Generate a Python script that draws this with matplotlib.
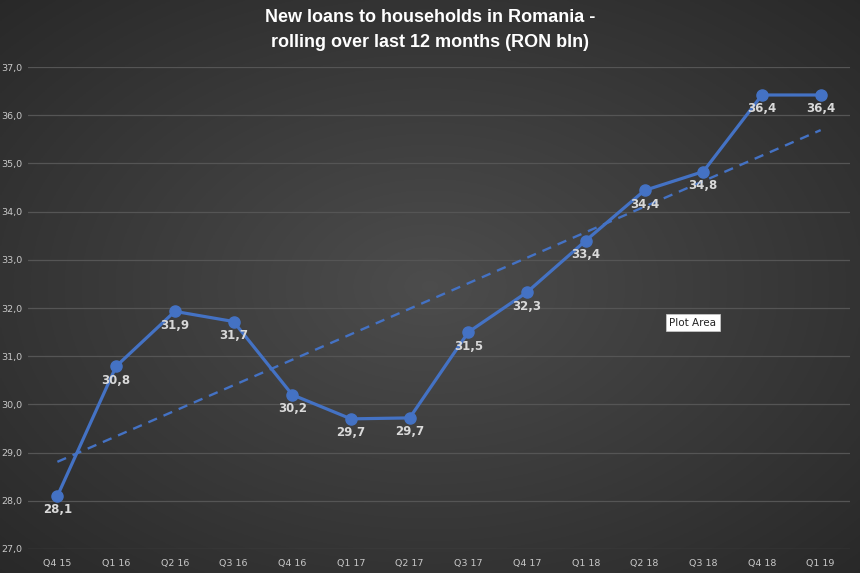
import numpy as np
import matplotlib.pyplot as plt
from matplotlib.ticker import FuncFormatter

# quarters and rolling 12-month new loans (RON bln)
quarters = ['Q4 15', 'Q1 16', 'Q2 16', 'Q3 16', 'Q4 16', 'Q1 17', 'Q2 17',
            'Q3 17', 'Q4 17', 'Q1 18', 'Q2 18', 'Q3 18', 'Q4 18', 'Q1 19']
loans = [28.1, 30.79, 31.93, 31.72, 30.2, 29.7, 29.72,
         31.5, 32.33, 33.4, 34.44, 34.83, 36.42, 36.42]
y_ticks = [27, 28, 29, 30, 31, 32, 33, 34, 35, 36, 37]

blue = '#4472C4'
x = np.arange(len(quarters))

fig = plt.figure(figsize=(8.6, 5.73), dpi=100)

# radial gradient background
bg = fig.add_axes([0, 0, 1, 1], zorder=-10)
gx, gy = np.meshgrid(np.linspace(-1, 1, 400), np.linspace(-1, 1, 300))
r = np.sqrt(gx ** 2 + gy ** 2) / np.sqrt(2)
shade = 0.30 - 0.14 * r
bg.imshow(np.dstack([shade, shade, shade]), aspect='auto', extent=[0, 1, 0, 1])
bg.axis('off')

ax = fig.add_axes([0.0326, 0.0419, 0.9558, 0.8411])
ax.patch.set_alpha(0)

ax.plot(x, loans, color=blue, lw=2.3, marker='o', ms=8, zorder=3)

# linear trend line like Excel's
k, b = np.polyfit(x, loans, 1)
ax.plot(x, k * x + b, color=blue, lw=1.7, ls=(0, (4, 3)), zorder=2)

for xi, v in zip(x, loans):
    ax.annotate(f'{v:.1f}'.replace('.', ','), (xi, v), xytext=(0, -10),
                textcoords='offset points', ha='center', va='center',
                fontsize=8.5, fontweight='bold', color='#d9d9d9', zorder=4)

ax.set_xlim(-0.5, len(quarters) - 0.5)
ax.set_ylim(27, 37)
ax.set_yticks(y_ticks)
ax.yaxis.set_major_formatter(FuncFormatter(lambda v, p: f'{v:.1f}'.replace('.', ',')))
ax.set_xticks(x)
ax.set_xticklabels(quarters)
ax.grid(axis='y', color='#555555', lw=0.9)
ax.set_axisbelow(True)
for s in ax.spines.values():
    s.set_visible(False)
ax.tick_params(length=0, labelsize=6.8, colors='#c8c8c8', pad=7)
ax.tick_params(axis='y', pad=4)

fig.text(0.5, 0.947, 'New loans to households in Romania -\nrolling over last 12 months (RON bln)',
         ha='center', va='center', fontsize=13, fontweight='bold', color='white',
         linespacing=1.6, family=['Liberation Sans', 'DejaVu Sans'])

fig.text(0.8058, 0.437, 'Plot Area', ha='center', va='center', fontsize=7.5,
         color='#222222', bbox=dict(boxstyle='square,pad=0.3', fc='white', ec='#cccccc', lw=0.5))

plt.savefig('out.png', dpi=100)
